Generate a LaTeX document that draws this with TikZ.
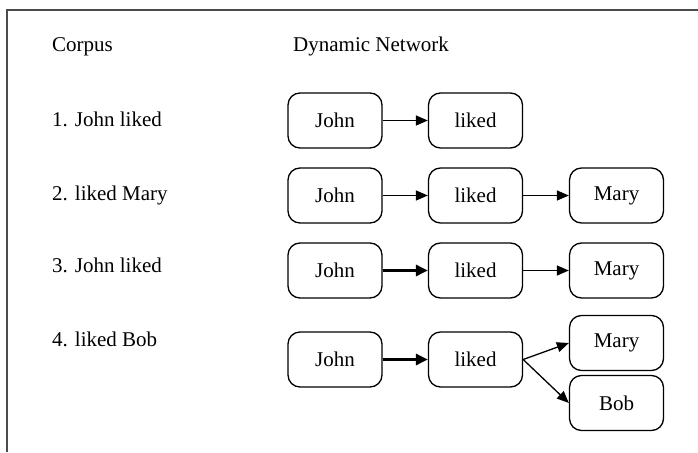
\documentclass[tikz,border=0pt]{standalone}
\usepackage{fontspec}
\setmainfont{Liberation Serif}
\usetikzlibrary{arrows.meta}
\begin{document}
\begin{tikzpicture}[x=1pt,y=1pt,
  font=\fontsize{21}{25}\selectfont,
  wbox/.style={draw, line width=1.3pt, rounded corners=12pt, minimum width=94pt, minimum height=55pt, inner sep=0pt},
  lbl/.style={anchor=base west, inner sep=0pt},
  thinarr/.style={line width=1.3pt, -{Triangle[length=12pt,width=10pt]}},
  thickarr/.style={line width=3.2pt, -{Triangle[length=12pt,width=11pt]}}
]
\useasboundingbox (0,0) rectangle (698,-452);
\coordinate (b1) at (7,-452);
\coordinate (b2) at (698,-10);
\draw[line width=1.6pt, black!70] (b1) |- (b2);

\node[lbl] (hc) at (52,-51.7) {Corpus};
\node[lbl] (hn) at (293,-51.7) {Dynamic Network};
\node[lbl] (c1) at (52,-126) {1. John liked};
\node[lbl] (c2) at (52,-200) {2. liked Mary};
\node[lbl] (c3) at (52,-272) {3. John liked};
\node[lbl] (c4) at (52,-346) {4. liked Bob};

% row 1
\node[wbox] (j1) at (335,-120.5) {John};
\node[wbox] (l1) at (475.5,-120.5) {liked};
\draw[thinarr] (j1) -- (l1);
% row 2
\node[wbox] (j2) at (335,-195.5) {John};
\node[wbox] (l2) at (475.5,-195.5) {liked};
\node[wbox] (m2) at (616.5,-195.5) {Mary};
\draw[thinarr] (j2) -- (l2);
\draw[thinarr] (l2) -- (m2);
% row 3
\node[wbox] (j3) at (335,-270.5) {John};
\node[wbox] (l3) at (475.5,-270.5) {liked};
\node[wbox] (m3) at (616.5,-270.5) {Mary};
\draw[thickarr] (j3) -- (l3);
\draw[thinarr] (l3) -- (m3);
% row 4
\node[wbox] (j4) at (335,-359.5) {John};
\node[wbox] (l4) at (475.5,-359.5) {liked};
\node[wbox] (m4) at (616.5,-343) {Mary};
\node[wbox] (b4) at (616.5,-403) {Bob};
\draw[thickarr] (j4) -- (l4);
\draw[thinarr] (l4.east) -- (m4.west);
\draw[thinarr] (l4.east) -- (b4.west);
\end{tikzpicture}
\end{document}
